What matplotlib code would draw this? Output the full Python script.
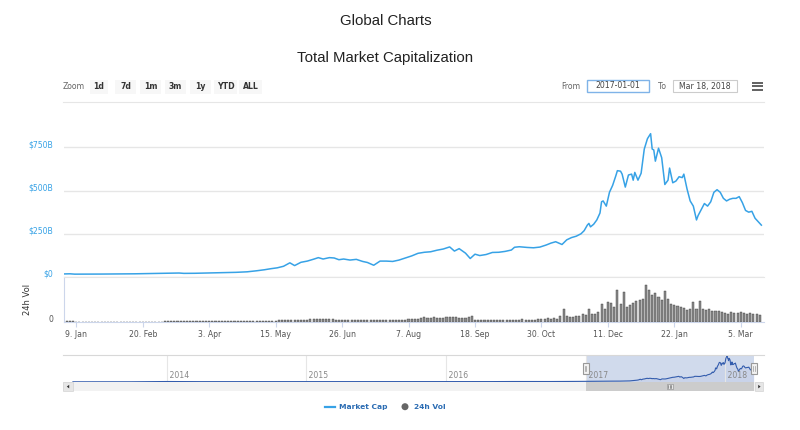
import matplotlib
matplotlib.use("Agg")
from matplotlib import pyplot as plt
from matplotlib.patches import Rectangle, Circle, Polygon
from matplotlib.transforms import ScaledTranslation, blended_transform_factory
import matplotlib.dates as mdates
import numpy as np
import pandas as pd

# ---- data (USD billions) ----
cap_dates = [
    "2017-01-01", "2017-01-05", "2017-01-08", "2017-01-15", "2017-01-25", "2017-02-05",
    "2017-02-15", "2017-02-25", "2017-03-03", "2017-03-10", "2017-03-15", "2017-03-18",
    "2017-03-25", "2017-04-01", "2017-04-10", "2017-04-20", "2017-04-27", "2017-05-03",
    "2017-05-08", "2017-05-12", "2017-05-16", "2017-05-20", "2017-05-24", "2017-05-27",
    "2017-05-31", "2017-06-04", "2017-06-08", "2017-06-11", "2017-06-14", "2017-06-18",
    "2017-06-21", "2017-06-24", "2017-06-27", "2017-07-01", "2017-07-05", "2017-07-09",
    "2017-07-12", "2017-07-16", "2017-07-20", "2017-07-24", "2017-07-28", "2017-08-01",
    "2017-08-05", "2017-08-09", "2017-08-13", "2017-08-17", "2017-08-21", "2017-08-25",
    "2017-08-29", "2017-09-02", "2017-09-05", "2017-09-08", "2017-09-12", "2017-09-15",
    "2017-09-18", "2017-09-21", "2017-09-25", "2017-09-29", "2017-10-03", "2017-10-07",
    "2017-10-11", "2017-10-13", "2017-10-16", "2017-10-21", "2017-10-25", "2017-10-29",
    "2017-11-02", "2017-11-05", "2017-11-08", "2017-11-10", "2017-11-12", "2017-11-15",
    "2017-11-18", "2017-11-21", "2017-11-24", "2017-11-26", "2017-11-28", "2017-11-29",
    "2017-11-30", "2017-12-02", "2017-12-04", "2017-12-06", "2017-12-07", "2017-12-08",
    "2017-12-10", "2017-12-12", "2017-12-14", "2017-12-16", "2017-12-17", "2017-12-19",
    "2017-12-20", "2017-12-22", "2017-12-24", "2017-12-26", "2017-12-27", "2017-12-28",
    "2017-12-30", "2018-01-01", "2018-01-03", "2018-01-05", "2018-01-07", "2018-01-08",
    "2018-01-09", "2018-01-10", "2018-01-12", "2018-01-14", "2018-01-16", "2018-01-18",
    "2018-01-19", "2018-01-21", "2018-01-23", "2018-01-25", "2018-01-27", "2018-01-28",
    "2018-01-30", "2018-02-01", "2018-02-03", "2018-02-05", "2018-02-06", "2018-02-08",
    "2018-02-10", "2018-02-12", "2018-02-14", "2018-02-16", "2018-02-18", "2018-02-20",
    "2018-02-22", "2018-02-24", "2018-02-26", "2018-02-28", "2018-03-02", "2018-03-04",
    "2018-03-06", "2018-03-08", "2018-03-10", "2018-03-12", "2018-03-14", "2018-03-16",
    "2018-03-18",
]
cap_values = [
    17.7, 18.5, 16.5, 16.5, 17, 17.5,
    18.5, 20, 21.5, 22, 23, 21,
    21.5, 23, 24.5, 27, 30, 36,
    42, 48, 53, 62, 82, 66,
    85, 92, 103, 112, 104, 112,
    110, 100, 104, 98, 102, 90,
    84, 68, 92, 92, 90, 98,
    110, 122, 137, 143, 146, 155,
    162, 174, 150, 164, 138, 107,
    132, 124, 130, 142, 143, 148,
    156, 172, 175, 171, 169, 173,
    185, 196, 204, 196, 188, 215,
    228, 236, 250, 268, 300, 310,
    290, 305, 330, 370, 435, 440,
    410, 490, 530, 585, 615, 612,
    595, 520, 590, 595, 560, 605,
    560, 600, 740, 800, 829, 740,
    735, 670, 745, 690, 535, 560,
    630, 545, 555, 580, 575, 595,
    510, 440, 410, 330, 355, 390,
    425, 410, 435, 490, 505, 490,
    455, 440, 450, 455, 455, 465,
    430, 385, 375, 380, 340, 320,
    300,
]

# 24h volume, grouped in 2-day bars starting 2017-01-01
vol_values = [
    # Jan 2017
    0.3, 0.4, 0.6, 0.4, 0.25, 0.2, 0.2, 0.2, 0.2, 0.2, 0.2, 0.2, 0.2, 0.2, 0.2, 0.2,
    # Feb
    0.2, 0.25, 0.25, 0.2, 0.25, 0.3, 0.25, 0.25, 0.3, 0.3, 0.25, 0.3, 0.3, 0.3,
    # Mar
    0.3, 0.3, 0.35, 0.4, 0.45, 0.5, 0.6, 0.6, 0.5, 0.5, 0.45, 0.5, 0.6, 0.45, 0.4,
    # Apr
    0.4, 0.4, 0.5, 0.5, 0.5, 0.5, 0.6, 0.5, 0.6, 0.6, 0.6, 0.6, 0.7, 0.7, 0.6,
    # May
    0.6, 0.7, 0.8, 1.0, 1.2, 1.3, 1.5, 1.8, 2.0, 2.2, 2.5, 3.0, 3.5, 3.5, 3.0, 3.0,
    # Jun
    3.0, 3.5, 4.0, 4.0, 4.5, 4.5, 4.0, 4.0, 4.5, 4.0, 3.5, 3.5, 3.5, 3.5, 3.0,
    # Jul
    3.0, 3.0, 2.5, 2.5, 2.5, 3.0, 3.0, 3.5, 3.0, 3.5, 3.5, 2.5, 2.5, 2.0, 2.0,
    # Aug
    3.0, 3.5, 3.5, 4.0, 4.5, 5.0, 5.0, 6.0, 7.0, 6.0, 6.0, 7.0, 6.0, 6.5, 6.0, 7.0,
    # Sep
    8.0, 7.0, 7.0, 6.0, 6.0, 6.0, 8.0, 9.0, 3.0, 2.5, 2.5, 2.5, 2.0, 2.5, 3.0,
    # Oct
    3.5, 3.0, 2.5, 2.5, 3.0, 3.0, 3.5, 3.5, 4.0, 3.5, 3.0, 3.0, 3.5, 4.0, 4.5,
    # Nov
    5.0, 5.5, 4.5, 6.0, 5.0, 9.0, 20, 9.0, 7.0, 8.0, 10, 9.0, 12, 11, 20,
    # Dec
    12, 13, 16, 28, 20, 32, 30, 24, 51, 28, 48, 24, 27, 30, 33, 35,
    # Jan 2018
    37, 60, 52, 44, 47, 40, 35, 50, 37, 29, 27, 25, 24, 23, 19,
    # Feb
    20, 32, 21, 34, 21, 19, 20, 17, 18, 17, 15, 14, 13, 15,
    # Mar
    14, 14, 15, 14, 13, 14, 12, 13, 11,
]

# navigator history before 2017, monthly (May 2013 - Dec 2016)
nav_hist_values = [
    1.3, 1.2, 1.1, 1.4, 1.6, 2.0, 5.0, 10.0,
    10, 8, 7, 6, 6, 8, 8, 7, 6, 5.5, 5.5, 4.5,
    3.8, 3.4, 3.6, 3.5, 3.5, 3.6, 4.2, 3.8, 3.4, 3.8, 5.0, 6.5,
    6.8, 6.3, 7.4, 7.2, 7.8, 10, 10.5, 9.3, 9.3, 9.8, 11, 13,
]

cap_ticks = [0, 250, 500, 750]
cap_tick_labels = ["$0", "$250B", "$500B", "$750B"]
range_buttons = ["1d", "7d", "1m", "3m", "1y", "YTD", "ALL"]

BLUE = "#37a2e6"
NAVBLUE = "#335cad"
W, H = 800, 430

cap_dt = pd.to_datetime(cap_dates)
vol_dt = pd.date_range("2017-01-01", periods=len(vol_values), freq="2D")
nav_dt = pd.date_range("2013-05-01", periods=len(nav_hist_values), freq="MS").append(cap_dt)
nav_vals = nav_hist_values + cap_values

plt.rcParams["font.family"] = ["DejaVu Sans"]
fig = plt.figure(figsize=(W / 100, H / 100), dpi=100)


def box(x0, y0, x1, y1):
    return [x0 / W, 1 - y1 / H, (x1 - x0) / W, (y1 - y0) / H]


def lift(ax, px):
    for lab in ax.get_yticklabels():
        lab.set_transform(lab.get_transform() + ScaledTranslation(0, px / 100, fig.dpi_scale_trans))


x_lo, x_hi = pd.Timestamp("2017-01-01"), pd.Timestamp("2018-03-19 16:00")

# main price panel
ax = fig.add_axes(box(63.6, 121.4, 764, 277))
ax.plot(cap_dt, cap_values, color=BLUE, lw=1.1, solid_joinstyle="round")
ax.set_xlim(x_lo, x_hi)
ax.set_ylim(0, 900)
ax.set_yticks(cap_ticks)
ax.set_yticklabels(cap_tick_labels, color=BLUE, fontsize=5.6)
ax.tick_params(axis="y", length=0, pad=7.6)
ax.set_xticks([])
ax.grid(axis="y", color="#e6e6e6", lw=1)
ax.set_axisbelow(True)
for s in ax.spines.values():
    s.set_visible(False)
lift(ax, 3.5)

# volume panel
av = fig.add_axes(box(63.6, 277.3, 764, 321.7))
av.bar(vol_dt, vol_values, width=1.3, color="#8c8c8c", edgecolor="#3c3c3c", lw=0.3)
av.set_xlim(x_lo, x_hi)
av.set_ylim(0, 72)
av.set_yticks([0])
av.set_yticklabels(["0"], color="#555555", fontsize=5.6)
av.tick_params(axis="y", length=0, pad=7.6)
xt = pd.date_range("2017-01-09", x_hi, freq="42D")
av.set_xticks(xt)
av.set_xticklabels([f"{d.day}. {d:%b}" for d in xt], fontsize=5.6, color="#555555")
av.tick_params(axis="x", length=3.5, color="#ccd6eb", pad=2.2)
av.spines["right"].set_visible(False)
av.spines["top"].set_color("#e6e6e6")
av.spines["left"].set_color("#ccd6eb")
av.spines["bottom"].set_color("#ccd6eb")
lift(av, 3.5)

# navigator
nav = fig.add_axes(box(63, 355, 754.5, 382.3))
nav.plot(nav_dt, nav_vals, color=NAVBLUE, lw=0.8)
nav.fill_between(nav_dt, nav_vals, -15, color=NAVBLUE, alpha=0.05, lw=0)
nav.set_xlim(pd.Timestamp("2013-04-05"), pd.Timestamp("2018-03-19"))
nav.set_ylim(-15, 850)
nav.set_yticks([])
years = pd.date_range("2014-01-01", "2018-01-01", freq="YS")
nav.set_xticks(years)
nav.set_xticklabels([])
nav.tick_params(axis="x", length=0)
nav.grid(axis="x", color="#e6e6e6", lw=0.8)
for s in nav.spines.values():
    s.set_visible(False)
tr = blended_transform_factory(nav.transData, nav.transAxes)
for y in years:
    nav.text(y, 0.24, f" {y.year}", transform=tr, fontsize=5.6, color="#888888",
             ha="left", va="center")
sel_lo, sel_hi = pd.Timestamp("2017-01-01"), pd.Timestamp("2018-03-18")
nav.axvspan(sel_lo, sel_hi, color=(102 / 255, 133 / 255, 194 / 255, 0.3), lw=0)

# overlay for page furniture, in pixel coordinates
ui = fig.add_axes([0, 0, 1, 1], zorder=5)
ui.set_xlim(0, W)
ui.set_ylim(H, 0)
ui.axis("off")

ui.text(386, 21, "Global Charts", ha="center", va="center", fontsize=10.8,
        family="Liberation Sans", color="#222222")
ui.text(385, 58, "Total Market Capitalization", ha="center", va="center", fontsize=10.8,
        family="Liberation Sans", color="#222222")

ui.text(63, 86.5, "Zoom", ha="left", va="center", fontsize=5.6, color="#666666")
bx = [90, 115, 140, 165, 190, 214, 239]
bw = [18, 21, 21, 21, 21, 23, 23]
for lab, x, w in zip(range_buttons, bx, bw):
    ui.add_patch(Rectangle((x, 79.5), w, 14.5, fc="#f7f7f7", ec="none"))
    ui.text(x + w / 2, 86.8, lab, ha="center", va="center", fontsize=5.6,
            color="#333333", fontweight="bold")

ui.text(561.5, 86.5, "From", ha="left", va="center", fontsize=5.6, color="#666666")
ui.add_patch(Rectangle((586.7, 79.5), 62.6, 12.5, fc="white", ec="#7fb3e8", lw=1))
ui.text(618, 86, "2017-01-01", ha="center", va="center", fontsize=5.6, color="#444444")
ui.text(658, 86.5, "To", ha="left", va="center", fontsize=5.6, color="#666666")
ui.add_patch(Rectangle((673.3, 79.5), 63.4, 12.5, fc="white", ec="#cccccc", lw=0.8))
ui.text(705, 86, "Mar 18, 2018", ha="center", va="center", fontsize=5.6, color="#444444")
for yy in (82.5, 86.3, 90.1):
    ui.plot([751.5, 762.5], [yy, yy], color="#555555", lw=1.3, solid_capstyle="butt")
ui.plot([63, 764], [101.7, 101.7], color="#e6e6e6", lw=0.8)

ui.text(28, 299, "24h Vol", rotation=90, ha="center", va="center", fontsize=6, color="#333333")

# navigator outline, handles and scrollbar
ui.plot([63, 764], [355, 355], color="#d8d8d8", lw=0.8)
xl = nav.transData.transform((mdates.date2num(sel_lo), 0))[0]
xr = nav.transData.transform((mdates.date2num(sel_hi), 0))[0]
ui.add_patch(Rectangle((63, 382.3), 700.3, 8.7, fc="#f2f2f2", ec="none"))
ui.add_patch(Rectangle((xl, 382.3), xr - xl, 8.7, fc="#cccccc", ec="none"))
ui.add_patch(Rectangle((63, 382.3), 10, 8.7, fc="#e6e6e6", ec="#cccccc", lw=0.4))
ui.add_patch(Rectangle((755.3, 382.3), 8, 8.7, fc="#e6e6e6", ec="#cccccc", lw=0.4))
ui.add_patch(Polygon([[69.2, 384.8], [69.2, 388.4], [66.8, 386.6]], closed=True, fc="#333333"))
ui.add_patch(Polygon([[758.2, 384.8], [758.2, 388.4], [760.6, 386.6]], closed=True, fc="#333333"))
gx = (xl + xr) / 2
ui.add_patch(Rectangle((gx - 3, 384.4), 6, 4.4, fc="#e6e6e6", ec="#888888", lw=0.4))
for dx in (-1.5, 0, 1.5):
    ui.plot([gx + dx, gx + dx], [385.2, 388.0], color="#555555", lw=0.4)
for hx in (xl, xr):
    ui.add_patch(Rectangle((hx - 3, 362.5), 6, 11, fc="#f2f2f2", ec="#999999", lw=0.8))
    for dx in (-0.8, 0.8):
        ui.plot([hx + dx, hx + dx], [365.5, 370.5], color="#999999", lw=0.5)

# legend
ui.plot([325, 335], [406.7, 406.7], color=BLUE, lw=1.6)
ui.text(339, 406.7, "Market Cap", ha="left", va="center", fontsize=5.4,
        fontweight="bold", color="#2b6cb3")
ui.add_patch(Circle((405, 406.7), 3.5, fc="#666666", ec="none"))
ui.text(413.5, 406.7, "24h Vol", ha="left", va="center", fontsize=5.4,
        fontweight="bold", color="#2b6cb3")

fig.savefig("out.png", dpi=100)
